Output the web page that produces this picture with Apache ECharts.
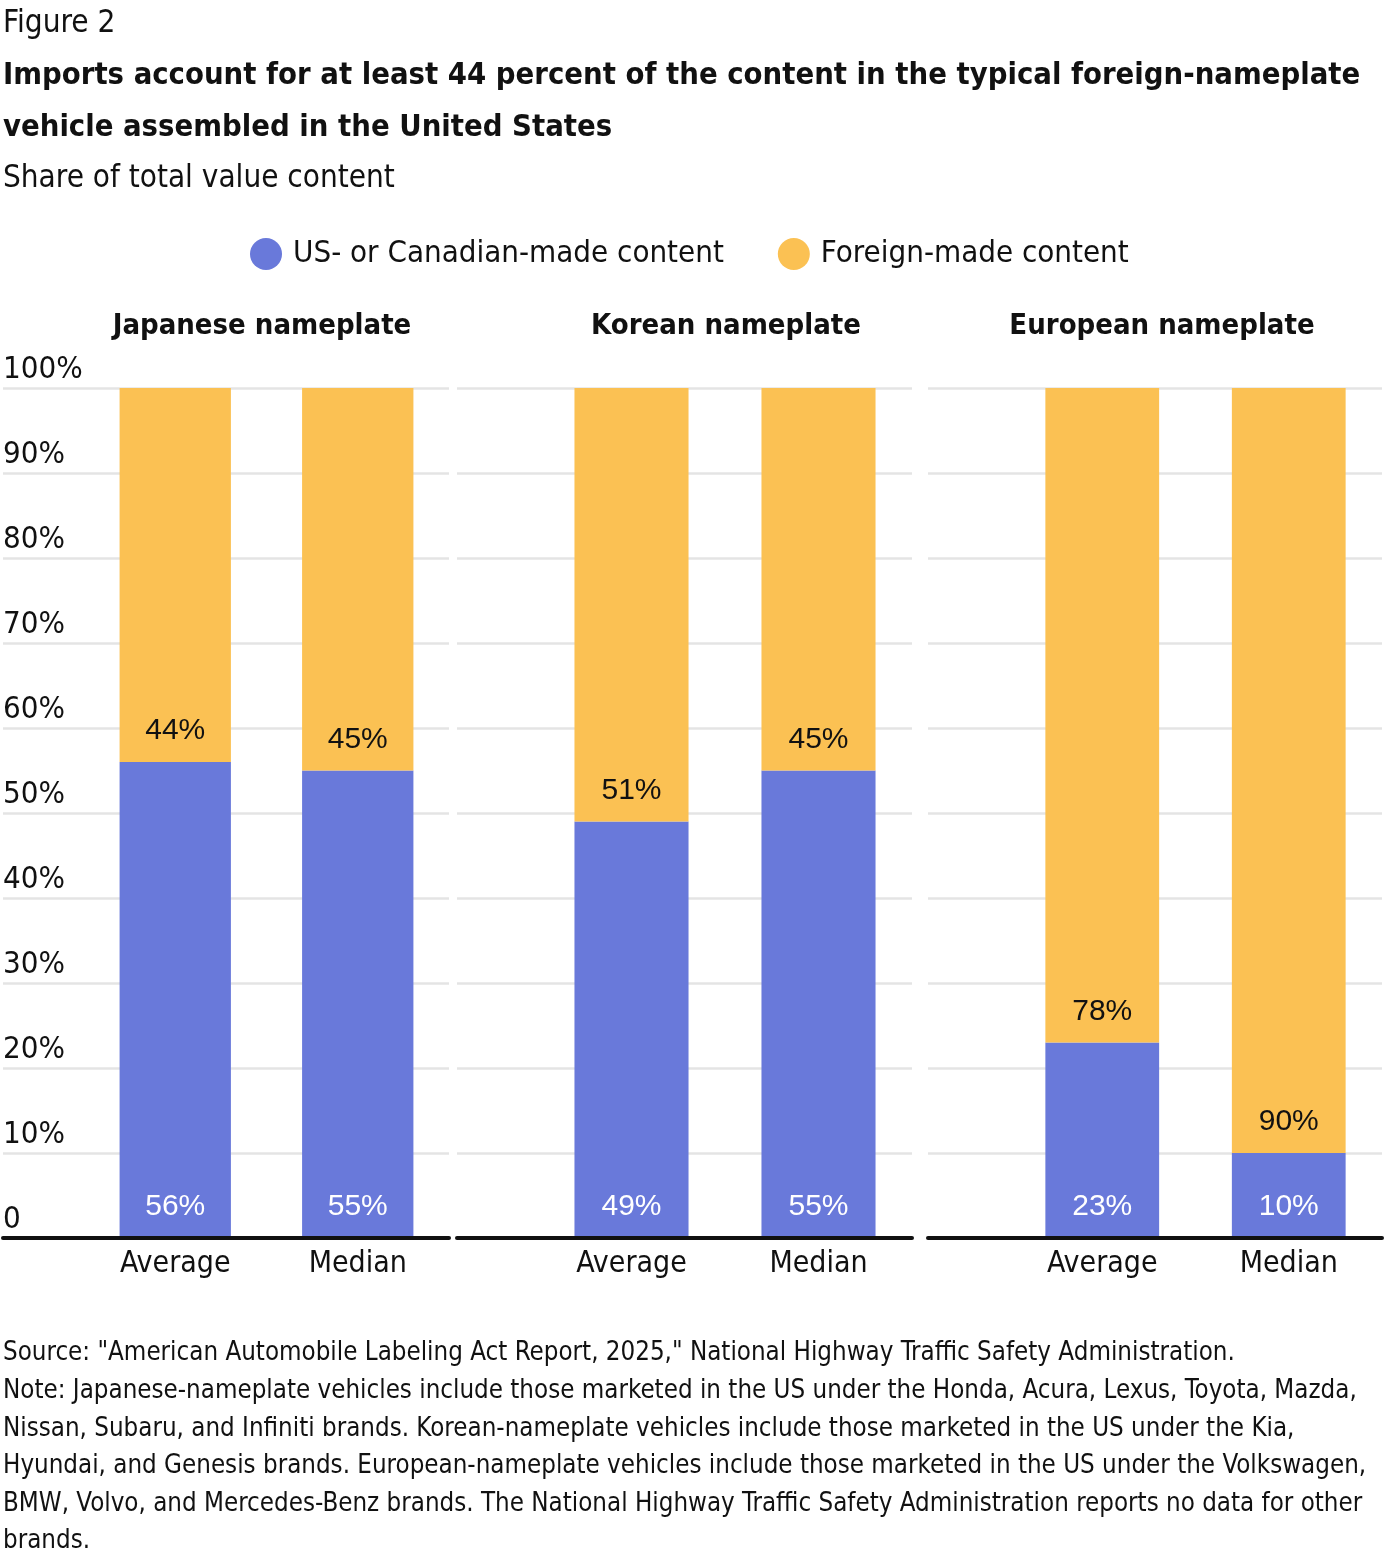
<!DOCTYPE html>
<html>
<head>
<meta charset="utf-8">
<script src="https://cdn.jsdelivr.net/npm/echarts@6/dist/echarts.min.js"></script>
<style>
  html, body { margin: 0; padding: 0; background: #fff; }
  #chart { width: 1400px; height: 1568px; }
</style>
</head>
<body>
<div id="chart"></div>
<script>
// ---------- data ----------
const panels = ['Japanese nameplate', 'Korean nameplate', 'European nameplate'];
const categories = ['Average', 'Median'];
const seriesNames = ['US- or Canadian-made content', 'Foreign-made content'];
const usValues = [[56, 55], [49, 55], [23, 10]];
const foreignValues = [[44, 45], [51, 45], [78, 90]];
const yTicks = [0, 10, 20, 30, 40, 50, 60, 70, 80, 90, 100];
const yTickLabels = ['0', '10%', '20%', '30%', '40%', '50%', '60%', '70%', '80%', '90%', '100%'];

// ---------- style ----------
const FONT = "'Liberation Sans Narrow', 'DejaVu Sans Condensed', sans-serif";
const NUMFONT = "'Liberation Sans', Arial, sans-serif";
const BLUE = '#6979DA';
const ORANGE = '#FBC153';
const GRID_TOP = 388, GRID_H = 850;
const panelBox = [[3, 449], [457, 912], [928, 1382]];
const LABEL_SPACE = 81;
const titleCenters = [262, 726, 1162];

const chart = echarts.init(document.getElementById('chart'), null, { renderer: 'canvas' });

const grid = [], xAxis = [], yAxis = [], series = [], titles = [];

titles.push({ text: 'Figure 2', left: 3, top: 9, padding: 0,
  textStyle: { fontFamily: FONT, fontSize: 31.3, fontWeight: 'normal', color: '#111', lineHeight: 30 } });
titles.push({ text: 'Imports account for at least 44 percent of the content in the typical foreign-nameplate\nvehicle assembled in the United States',
  left: 3, top: 50, padding: 0,
  textStyle: { fontFamily: FONT, fontSize: 30.7, fontWeight: 'bold', color: '#111', lineHeight: 52 } });
titles.push({ text: 'Share of total value content', left: 3, top: 164, padding: 0,
  textStyle: { fontFamily: FONT, fontSize: 31.2, fontWeight: 'normal', color: '#111', lineHeight: 30 } });
titles.push({ text: 'Source: "American Automobile Labeling Act Report, 2025," National Highway Traffic Safety Administration.\nNote: Japanese-nameplate vehicles include those marketed in the US under the Honda, Acura, Lexus, Toyota, Mazda,\nNissan, Subaru, and Infiniti brands. Korean-nameplate vehicles include those marketed in the US under the Kia,\nHyundai, and Genesis brands. European-nameplate vehicles include those marketed in the US under the Volkswagen,\nBMW, Volvo, and Mercedes-Benz brands. The National Highway Traffic Safety Administration reports no data for other\nbrands.',
  left: 3, top: 1335, padding: 0,
  textStyle: { fontFamily: FONT, fontSize: 25.7, fontWeight: 'normal', color: '#111', lineHeight: 37.6 } });

panels.forEach((p, i) => {
  const [L, R] = panelBox[i];
  titles.push({ text: p, left: titleCenters[i], textAlign: 'center', top: 311, padding: 0,
    textStyle: { fontFamily: FONT, fontSize: 29, fontWeight: 'bold', color: '#111', lineHeight: 30 } });

  // background grid: gridlines, y labels, baseline
  grid.push({ left: L, top: GRID_TOP, width: R - L, height: GRID_H, containLabel: false });
  const bg = grid.length - 1;
  xAxis.push({ gridIndex: bg, type: 'category', data: [''], axisTick: { show: false }, axisLabel: { show: false },
    axisLine: { show: true, lineStyle: { color: '#111', width: 4 } }, z: 5 });
  yAxis.push({ gridIndex: bg, type: 'value', min: 0, max: 100, interval: 10,
    axisLine: { show: false }, axisTick: { show: false },
    splitLine: { show: true, lineStyle: { color: '#E4E4E4', width: 2.5 } },
    axisLabel: { show: i === 0, inside: true, margin: 0, verticalAlign: 'bottom', padding: [0, 0, 3, 0],
      fontFamily: FONT, fontSize: 31, color: '#111',
      formatter: v => yTickLabels[yTicks.indexOf(v)] } });

  // bar grid
  grid.push({ left: L + LABEL_SPACE, top: GRID_TOP, width: R - L - LABEL_SPACE, height: GRID_H, containLabel: false });
  const fg = grid.length - 1;
  xAxis.push({ gridIndex: fg, type: 'category', data: categories,
    axisLine: { show: false }, axisTick: { show: false },
    axisLabel: { margin: 11, fontFamily: FONT, fontSize: 30, color: '#111' } });
  yAxis.push({ gridIndex: fg, type: 'value', min: 0, max: 100, show: false, splitLine: { show: false } });

  const stack = 'p' + i;
  series.push({ name: seriesNames[0], type: 'bar', stack, xAxisIndex: fg, yAxisIndex: fg,
    data: usValues[i], barWidth: '61%', itemStyle: { color: BLUE }, clip: true, z: 3,
    label: { show: true, position: 'insideBottom', distance: 16, color: '#fff',
      fontFamily: NUMFONT, fontSize: 30, formatter: '{c}%' } });
  series.push({ name: seriesNames[1], type: 'bar', stack, xAxisIndex: fg, yAxisIndex: fg,
    data: foreignValues[i], barWidth: '61%', itemStyle: { color: ORANGE }, clip: true, z: 3,
    label: { show: true, position: 'insideBottom', distance: 16, color: '#111',
      fontFamily: NUMFONT, fontSize: 30, formatter: '{c}%' } });
});

chart.setOption({
  backgroundColor: '#fff',
  animation: false,
  title: titles,
  legend: {
    data: seriesNames, left: 245, top: 233, icon: 'circle', itemWidth: 32, itemHeight: 32, itemGap: 54,
    textStyle: { fontFamily: FONT, fontSize: 31, color: '#111', padding: [0, 0, 0, 6] }
  },
  grid, xAxis, yAxis, series
});
</script>
</body>
</html>
